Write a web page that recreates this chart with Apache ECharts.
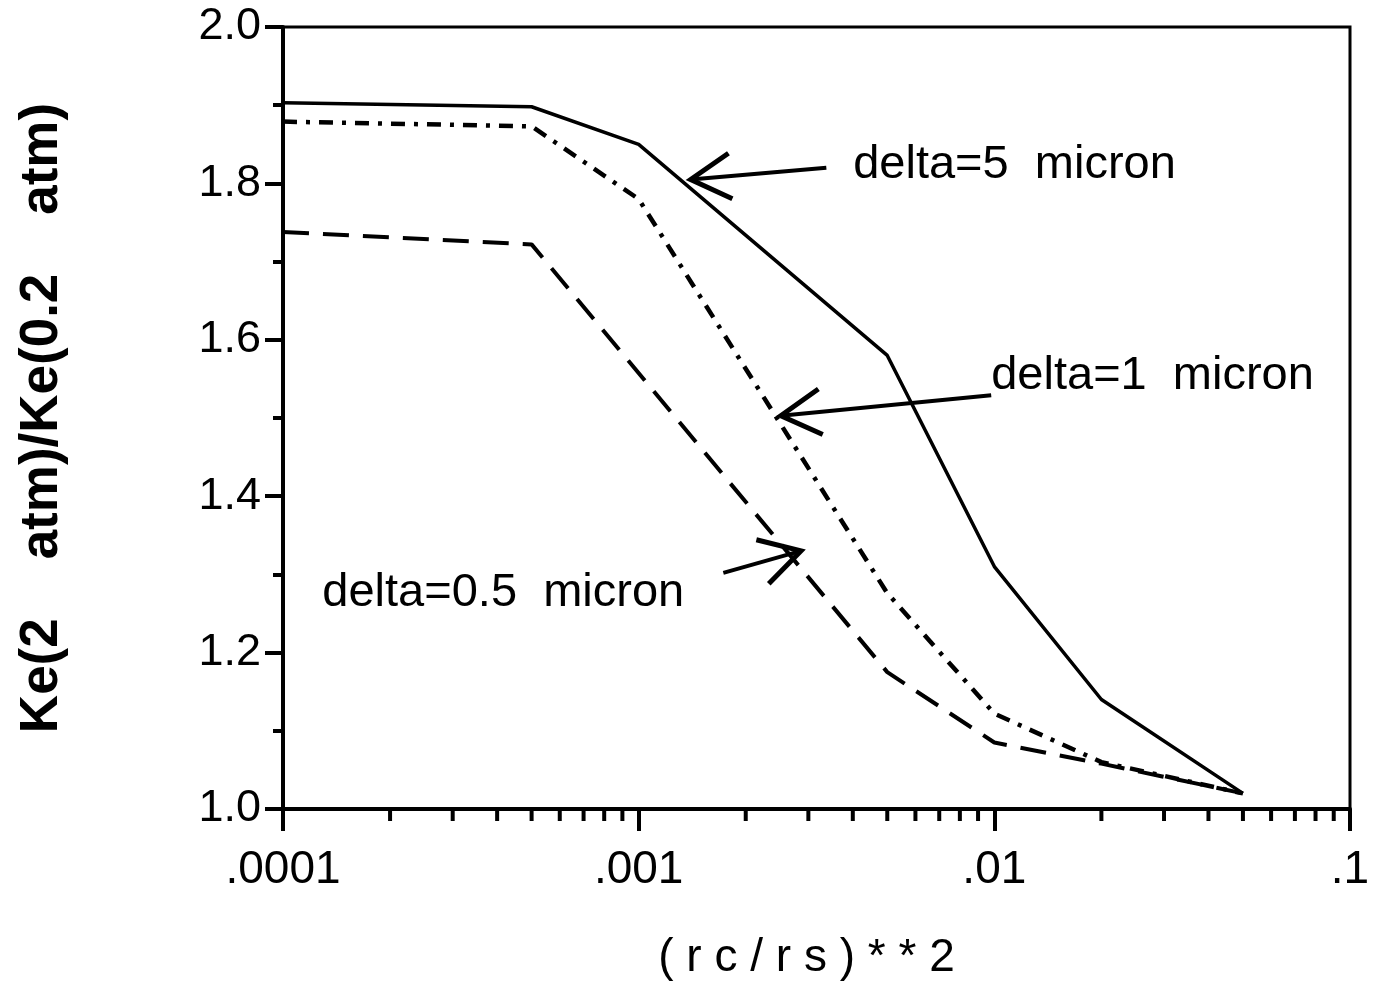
<!DOCTYPE html>
<html>
<head>
<meta charset="utf-8">
<script src="https://cdn.jsdelivr.net/npm/echarts@6/dist/echarts.min.js"></script>
<style>
html,body{margin:0;padding:0;background:#fff;}
#c{width:1374px;height:986px;}
</style>
</head>
<body>
<div id="c"></div>
<script>
// ---- data ----
var xValues   = [0.0001, 0.0005, 0.001, 0.005, 0.01, 0.02, 0.05];
var delta5Y   = [1.903, 1.898, 1.850, 1.580, 1.310, 1.140, 1.020];
var delta1Y   = [1.879, 1.873, 1.780, 1.276, 1.122, 1.060, 1.020];
var delta05Y  = [1.738, 1.722, null,  1.175, 1.085, 1.058, 1.020];
var xTickValues = [0.0001, 0.001, 0.01, 0.1];
var xTickLabels = ['.0001', '.001', '.01', '.1'];
var xMinorTicks = [0.0002,0.0003,0.0004,0.0005,0.0006,0.0007,0.0008,0.0009,
                   0.002,0.003,0.004,0.005,0.006,0.007,0.008,0.009,
                   0.02,0.03,0.04,0.05,0.06,0.07,0.08,0.09];
var seriesNames = ['delta=5  micron', 'delta=1  micron', 'delta=0.5  micron'];
// annotation anchors in data coords: [textX, textY, tailX, tailY, headX, headY]
var annotations = [
  [0.00401, 1.824, 0.00337, 1.820, 0.00140, 1.805],
  [0.00980, 1.554, 0.00980, 1.529, 0.00251, 1.503],
  [0.000129, 1.276, 0.00173, 1.302, 0.00286, 1.330]
];

function pairs(xs, ys){ var r=[]; for(var i=0;i<xs.length;i++){ r.push([xs[i], ys[i]]); } return r; }

var FONT = '"Liberation Sans", Arial, Helvetica, sans-serif';
var chart = echarts.init(document.getElementById('c'), null, {renderer:'canvas'});

var option = {
  backgroundColor: '#fff',
  animation: false,
  grid: {left: 283, right: 24, top: 27, bottom: 174, show: true, borderColor: '#000', borderWidth: 3, backgroundColor: 'transparent'},
  xAxis: {
    type: 'log', logBase: 10, min: 0.0001, max: 0.1, splitNumber: 3,
    axisLine: {show: true, lineStyle: {color: '#000', width: 4}},
    axisTick: {show: true, length: 22, lineStyle: {color: '#000', width: 4}},
    splitLine: {show: false},
    axisLabel: {
      color: '#000', fontSize: 46, fontFamily: FONT, margin: 38,
      formatter: function(v){
        for (var i=0;i<xTickValues.length;i++){ if (Math.abs(Math.log10(v)-Math.log10(xTickValues[i]))<1e-6) return xTickLabels[i]; }
        return '';
      }
    },
    name: '( r c / r s ) * * 2', nameLocation: 'middle', nameGap: 126,
    nameTextStyle: {color: '#000', fontSize: 46, fontFamily: FONT, fontWeight: 'normal', padding: [0, 20, 0, 0]}
  },
  yAxis: {
    type: 'value', min: 1.0, max: 2.0, interval: 0.2,
    axisLine: {show: true, lineStyle: {color: '#000', width: 4}},
    axisTick: {show: true, length: 18, lineStyle: {color: '#000', width: 4}},
    minorTick: {show: true, splitNumber: 2, length: 10, lineStyle: {color: '#000', width: 4}},
    splitLine: {show: false},
    axisLabel: {color: '#000', fontSize: 45, fontFamily: FONT, margin: 22,
      formatter: function(v){ return v.toFixed(1); }},
    name: 'Ke(2    atm)/Ke(0.2    atm)', nameLocation: 'middle', nameGap: 214, nameRotate: 90,
    nameTextStyle: {color: '#000', fontSize: 53, fontFamily: FONT, fontWeight: 'bold'}
  },
  series: [
    {name: seriesNames[0], type: 'line', data: pairs(xValues, delta5Y), symbol: 'none', connectNulls: true,
     lineStyle: {color: '#000', width: 3.5, type: 'solid'}},
    {name: seriesNames[1], type: 'line', data: pairs(xValues, delta1Y), symbol: 'none', connectNulls: true,
     lineStyle: {color: '#000', width: 4.5, type: [14, 9, 4, 9]}},
    {name: seriesNames[2], type: 'line', data: pairs(xValues, delta05Y), symbol: 'none', connectNulls: true,
     lineStyle: {color: '#000', width: 4, type: [26, 14]}},
    {type: 'custom', clip: false, silent: true, z: 5,
     data: xMinorTicks.map(function(v){ return [v, 1.0]; }),
     renderItem: function(params, api){
       var p = api.coord([api.value(0), api.value(1)]);
       return {type: 'line', shape: {x1: p[0], y1: p[1], x2: p[0], y2: p[1] + 12},
               style: {stroke: '#000', lineWidth: 4}};
     }}
  ]
};
chart.setOption(option);

function arrowGraphics(){
  var g = [];
  for (var i=0;i<annotations.length;i++){
    var a = annotations[i];
    var tp = chart.convertToPixel({gridIndex: 0}, [a[0], a[1]]);
    var tl = chart.convertToPixel({gridIndex: 0}, [a[2], a[3]]);
    var hd = chart.convertToPixel({gridIndex: 0}, [a[4], a[5]]);
    g.push({type: 'text', style: {x: tp[0], y: tp[1], text: seriesNames[i], fill: '#000',
            font: '47px ' + FONT, textVerticalAlign: 'middle', textAlign: 'left'}});
    g.push({type: 'line', shape: {x1: tl[0], y1: tl[1], x2: hd[0], y2: hd[1]},
            style: {stroke: '#000', lineWidth: 4}});
    var ang = Math.atan2(tl[1]-hd[1], tl[0]-hd[0]);
    var L = 46, s = 0.52;
    g.push({type: 'polyline', shape: {points: [
        [hd[0] + L*Math.cos(ang + s), hd[1] + L*Math.sin(ang + s)],
        [hd[0], hd[1]],
        [hd[0] + L*Math.cos(ang - s), hd[1] + L*Math.sin(ang - s)]]},
      style: {stroke: '#000', lineWidth: 5, fill: null, lineJoin: 'miter'}});
  }
  return g;
}
chart.setOption({graphic: arrowGraphics()});
</script>
</body>
</html>
